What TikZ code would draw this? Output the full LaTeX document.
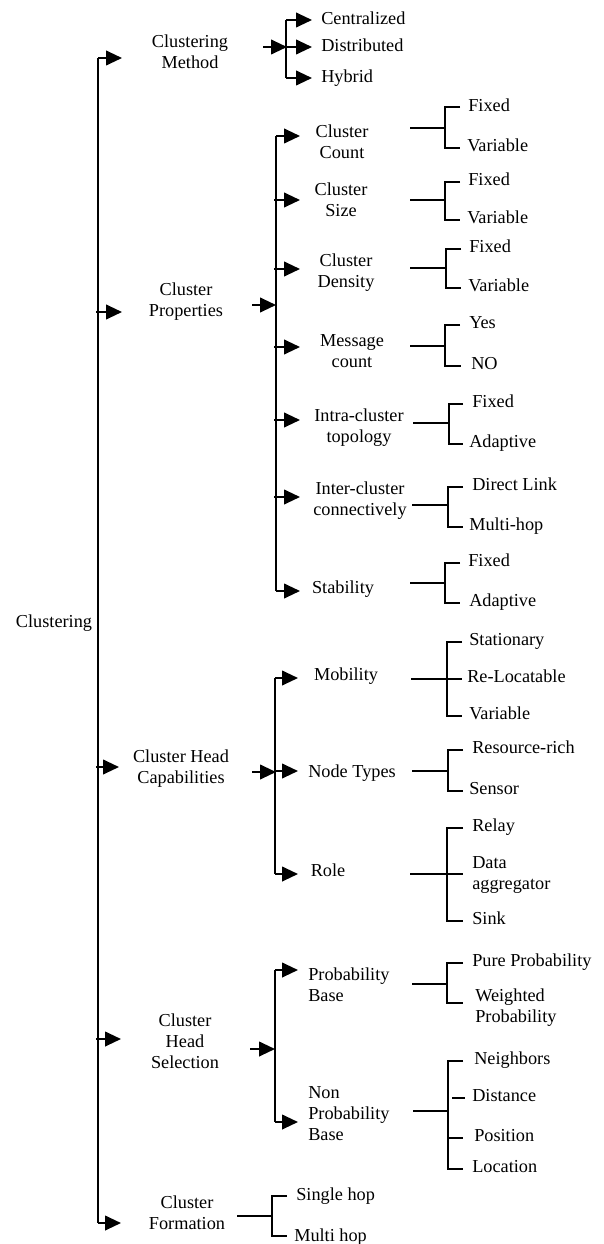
\documentclass[tikz,border=0pt]{standalone}
\usepackage{fontspec}
\setmainfont{Liberation Serif}
\usetikzlibrary{arrows.meta}
\newcommand{\tnr}{\fontsize{13.7}{15.75}\selectfont}
\begin{document}
\begin{tikzpicture}[x=0.75pt,y=-0.75pt,
  lnk/.style={line width=1.5pt},
  arr/.style={line width=1.5pt,-{Triangle[length=12pt,width=11pt]}},
  lbl/.style={inner sep=0pt,align=center,font=\tnr},
  lblL/.style={inner sep=0pt,align=left,anchor=west,font=\tnr},
  leaf/.style={inner sep=0pt,anchor=west,text height=0.68em,text depth=0.22em,font=\tnr}]
\useasboundingbox (0,0) rectangle (603,1244);

% ---------- root and level 1 ----------
\node[lbl] (root) at (54,623) {Clustering};
\node[lbl] (m1) at (190,52) {Clustering\\Method};
\node[lbl] (m2) at (186,302) {Cluster\\Properties};
\node[lbl] (m3) at (181,769) {Cluster Head\\Capabilities};
\node[lbl] (m4) at (185,1041) {Cluster\\Head\\Selection};
\node[lbl] (m5) at (187,1213) {Cluster\\Formation};

% trunk
\coordinate (T1) at (98,58);
\coordinate (T2) at (96,312);
\coordinate (T3) at (96,767);
\coordinate (T4) at (96,1039);
\coordinate (T5) at (98,1223);
\coordinate (A1) at (122,58);
\coordinate (A2) at (122,312);
\coordinate (A3) at (119,767);
\coordinate (A4) at (121,1039);
\coordinate (A5) at (121,1223);
\draw[lnk] (T1) -- (T5);
\draw[arr] (T1) -- (A1);
\draw[arr] (T2) -- (A2);
\draw[arr] (T3) -- (A3);
\draw[arr] (T4) -- (A4);
\draw[arr] (T5) -- (A5);

% ---------- Clustering Method ----------
\coordinate (M1in) at (263,47);
\coordinate (M1bus) at (287,47);
\coordinate (M1t) at (286,20);
\coordinate (M1b) at (286,78);
\draw[arr] (M1in) -- (M1bus);
\draw[lnk] (M1t) -- (M1b);
\node[leaf] (cen) at (321,21) {Centralized};
\node[leaf] (dis) at (321,48) {Distributed};
\node[leaf] (hyb) at (321,79) {Hybrid};
\draw[arr] (M1t) -- (312,20);
\draw[arr] (285,47) -- (312,47);
\draw[arr] (M1b) -- (312,78);

% ---------- Cluster Properties ----------
\coordinate (P2in) at (252,305);
\coordinate (P2bus) at (276,305);
\coordinate (P2t) at (276,136);
\coordinate (P2b) at (276,591);
\draw[arr] (P2in) -- (P2bus);
\draw[lnk] (P2t) -- (P2b);
\node[lbl] (p1) at (342,142) {Cluster\\Count};
\node[lbl] (p2) at (341,200) {Cluster\\Size};
\node[lbl] (p3) at (346,273) {Cluster\\Density};
\node[lbl] (p4) at (352,351) {Message\\count};
\node[lbl] (p5) at (359,428) {Intra-cluster\\topology};
\node[lbl] (p6) at (360,501) {Inter-cluster\\connectively};
\node[lbl] (p7) at (343,589) {Stability};
\draw[arr] (P2t) -- (300,136);
\draw[arr] (274,200) -- (300,200);
\draw[arr] (274,269) -- (300,269);
\draw[arr] (274,347) -- (300,347);
\draw[arr] (274,420) -- (300,420);
\draw[arr] (274,497) -- (300,497);
\draw[arr] (P2b) -- (300,591);

% brackets of properties
% count
\draw[lnk] (410,128) -- (445,128);
\draw[lnk] (460,107) -- (445,107) -- (445,148) -- (460,148);
\node[leaf] (p1a) at (468,108) {Fixed};
\node[leaf] (p1b) at (467,148) {Variable};
% size
\draw[lnk] (410,200) -- (445,200);
\draw[lnk] (460,182) -- (445,182) -- (445,220) -- (460,220);
\node[leaf] (p2a) at (468,182) {Fixed};
\node[leaf] (p2b) at (467,220) {Variable};
% density
\draw[lnk] (410,268) -- (446,268);
\draw[lnk] (461,249) -- (446,249) -- (446,288) -- (461,288);
\node[leaf] (p3a) at (469,249) {Fixed};
\node[leaf] (p3b) at (468,288) {Variable};
% message
\draw[lnk] (410,346) -- (445,346);
\draw[lnk] (460,325) -- (445,325) -- (445,366) -- (461,366);
\node[leaf] (p4a) at (469,325) {Yes};
\node[leaf] (p4b) at (471,366) {NO};
% intra
\draw[lnk] (413,423) -- (449,423);
\draw[lnk] (463,404) -- (449,404) -- (449,444) -- (463,444);
\node[leaf] (p5a) at (472,404) {Fixed};
\node[leaf] (p5b) at (469,444) {Adaptive};
% inter
\draw[lnk] (412,505) -- (448,505);
\draw[lnk] (463,487) -- (448,487) -- (448,527) -- (463,527);
\node[leaf] (p6a) at (472,487) {Direct Link};
\node[leaf] (p6b) at (469,527) {Multi-hop};
% stability
\draw[lnk] (410,583) -- (445,583);
\draw[lnk] (460,563) -- (445,563) -- (445,603) -- (460,603);
\node[leaf] (p7a) at (468,563) {Fixed};
\node[leaf] (p7b) at (469,603) {Adaptive};

% ---------- Cluster Head Capabilities ----------
\coordinate (C3in) at (252,772);
\coordinate (C3bus) at (276,772);
\coordinate (C3t) at (275,678);
\coordinate (C3b) at (275,874);
\draw[arr] (C3in) -- (C3bus);
\draw[lnk] (C3t) -- (C3b);
\node[lbl] (c1) at (346,676) {Mobility};
\node[lbl] (c2) at (352,773) {Node Types};
\node[lbl] (c3) at (328,870) {Role};
\draw[arr] (C3t) -- (298,678);
\draw[arr] (274,771) -- (298,771);
\draw[arr] (C3b) -- (298,874);
% mobility
\draw[lnk] (411,679) -- (462,679);
\draw[lnk] (462,642) -- (447,642) -- (447,716) -- (462,716);
\node[leaf] (c1a) at (469,642) {Stationary};
\node[leaf] (c1b) at (467,679) {Re-Locatable};
\node[leaf] (c1c) at (469,716) {Variable};
% node types
\draw[lnk] (412,771) -- (448,771);
\draw[lnk] (463,750) -- (448,750) -- (448,791) -- (463,791);
\node[leaf] (c2a) at (472,750) {Resource-rich};
\node[leaf] (c2b) at (469,791) {Sensor};
% role
\draw[lnk] (410,874) -- (463,874);
\draw[lnk] (463,828) -- (447,828) -- (447,921) -- (463,921);
\node[leaf] (c3a) at (472,828) {Relay};
\node[lblL] (c3b) at (472,875) {Data\\aggregator};
\node[leaf] (c3c) at (472,921) {Sink};

% ---------- Cluster Head Selection ----------
\coordinate (S4in) at (250,1049);
\coordinate (S4bus) at (275,1049);
\coordinate (S4t) at (275,970);
\coordinate (S4b) at (275,1122);
\draw[arr] (S4in) -- (S4bus);
\draw[lnk] (S4t) -- (S4b);
\node[lblL] (s1) at (308,985) {Probability\\Base};
\node[lblL] (s2) at (308,1114) {Non\\Probability\\Base};
\draw[arr] (S4t) -- (298,970);
\draw[arr] (S4b) -- (298,1122);
% probability base
\draw[lnk] (412,984) -- (447,984);
\draw[lnk] (463,963) -- (447,963) -- (447,1003) -- (463,1003);
\node[leaf] (s1a) at (472,963) {Pure Probability};
\node[lblL] (s1b) at (475,1008) {Weighted\\Probability};
% non probability base
\draw[lnk] (413,1111) -- (448,1111);
\draw[lnk] (463,1061) -- (448,1061) -- (448,1169) -- (463,1169);
\draw[lnk] (452,1098) -- (465,1098);
\draw[lnk] (448,1138) -- (463,1138);
\node[leaf] (s2a) at (474,1061) {Neighbors};
\node[leaf] (s2b) at (472,1098) {Distance};
\node[leaf] (s2c) at (474,1138) {Position};
\node[leaf] (s2d) at (472,1169) {Location};

% ---------- Cluster Formation ----------
\draw[lnk] (237,1216) -- (272,1216);
\draw[lnk] (287,1196) -- (272,1196) -- (272,1236) -- (287,1236);
\node[leaf] (f1) at (296,1197) {Single hop};
\node[leaf] (f2) at (294,1238) {Multi hop};
\end{tikzpicture}
\end{document}
